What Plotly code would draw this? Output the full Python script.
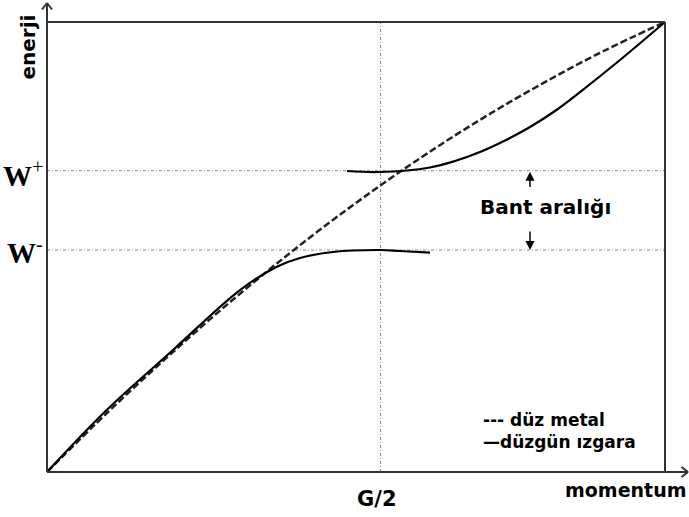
import plotly.graph_objects as go

# ---- data (momentum, energy in normalised units) ----
free_k = [0.0, 0.1, 0.2, 0.3, 0.4, 0.5, 0.6, 0.7, 0.8, 0.9, 1.0]
free_E = [0.0, 0.135, 0.262, 0.382, 0.494, 0.598, 0.694, 0.782, 0.862, 0.935, 1.0]

lower_k = [0.0, 0.0966, 0.2039, 0.3123, 0.372, 0.4094, 0.4628, 0.5388, 0.5712, 0.6197]
lower_E = [0.0, 0.1378, 0.2711, 0.4044, 0.456, 0.4756, 0.4889, 0.4933, 0.4911, 0.4874]

upper_k = [0.4854, 0.5388, 0.6197, 0.6602, 0.7006, 0.7411, 0.7816, 0.822, 0.8625, 0.9272, 1.0]
upper_E = [0.6689, 0.6667, 0.6767, 0.6911, 0.7111, 0.7367, 0.7667, 0.8022, 0.8444, 0.9156, 1.0]

g_half = 0.5396
w_minus = 0.4933
w_plus = 0.6696

# ---- pixel helpers for layout placement ----
X0, XS = 47, 618
Y0, YS = 472, 450
W, H = 689, 517
ml, mr, mt, mb = 37, 0, 2, 35

def px(x):
    return (x - X0) / XS
def py(y):
    return (Y0 - y) / YS
def ppx(x):
    return (x - ml) / (W - ml - mr)
def ppy(y):
    return (H - mb - y) / (H - mt - mb)

xr = [px(ml), px(W - mr)]
yr = [py(H - mb), py(mt)]

fig = go.Figure()
fig.add_trace(go.Scatter(x=free_k, y=free_E, mode="lines", line_shape="spline",
                         line=dict(color="#222", width=2.5, dash="7px,3px"),
                         name="düz metal"))
fig.add_trace(go.Scatter(x=lower_k, y=lower_E, mode="lines", line_shape="spline",
                         line=dict(color="black", width=2.2), name="düzgün ızgara"))
fig.add_trace(go.Scatter(x=upper_k, y=upper_E, mode="lines", line_shape="spline",
                         line=dict(color="black", width=2.2), showlegend=False))

grid = dict(color="#888", width=1, dash="3px,2px,1px,2px")
frame = dict(color="#333", width=2)
shapes = [
    dict(type="line", x0=0, x1=1, y0=w_plus, y1=w_plus, line=grid, layer="below"),
    dict(type="line", x0=0, x1=1, y0=w_minus, y1=w_minus, line=grid, layer="below"),
    dict(type="line", x0=g_half, x1=g_half, y0=0, y1=1, line=grid, layer="below"),
    dict(type="line", x0=0, x1=1, y0=1, y1=1, line=frame),
    dict(type="line", x0=1, x1=1, y0=0, y1=1, line=frame),
    # axes with arrows
    dict(type="line", x0=0, x1=0, y0=0, y1=py(3), line=frame),
    dict(type="line", x0=0, x1=px(688), y0=0, y1=0, line=frame),
    dict(type="line", x0=px(42), x1=0, y0=py(9.5), y1=py(3), line=frame),
    dict(type="line", x0=px(52), x1=0, y0=py(9.5), y1=py(3), line=frame),
    dict(type="line", x0=px(681.5), x1=px(688), y0=py(467), y1=0, line=frame),
    dict(type="line", x0=px(681.5), x1=px(688), y0=py(477), y1=0, line=frame),
]

sans = "DejaVu Sans"
ann = [
    dict(x=ppx(27.5), y=ppy(47), text="<b>enerji</b>", textangle=-90,
         font=dict(family=sans, size=20, color="black")),
    dict(x=ppx(625), y=ppy(489.5), text="<b>momentum</b>",
         font=dict(family=sans, size=19, color="black")),
    dict(x=ppx(376.5), y=ppy(499), text="<b>G/2</b>",
         font=dict(family=sans, size=21, color="black")),
    dict(x=ppx(545), y=ppy(206.5), text="<b>Bant aralığı</b>",
         font=dict(family=sans, size=20, color="black")),
    dict(x=ppx(45), y=ppy(174), text="<b>W</b><sup>+</sup>", xanchor="right",
         font=dict(family="Liberation Serif", size=29, color="black")),
    dict(x=ppx(45), y=ppy(251), text="<b>W</b><sup>-</sup>", xanchor="right",
         font=dict(family="Liberation Serif", size=29, color="black")),
    dict(x=ppx(481), y=ppy(420), text="<b>--- düz metal</b>", xanchor="left",
         font=dict(family=sans, size=17, color="black")),
    dict(x=ppx(481), y=ppy(441.7), text="<b>—düzgün ızgara</b>", xanchor="left",
         font=dict(family=sans, size=17, color="black")),
]
for a in ann:
    a["showarrow"] = False
    a["xref"] = "paper"
    a["yref"] = "paper"
    a.setdefault("xanchor", "center")
    a["yanchor"] = "middle"

arrows = [
    dict(x=px(530), y=py(171.7), ax=px(530), ay=py(188.5)),
    dict(x=px(530), y=py(250), ax=px(530), ay=py(230)),
]
for a in arrows:
    a.update(xref="x", yref="y", axref="x", ayref="y", text="", showarrow=True,
             arrowhead=2, arrowsize=1.2, arrowwidth=1.5, arrowcolor="black")
    ann.append(a)

fig.update_layout(
    width=W, height=H,
    margin=dict(l=ml, r=mr, t=mt, b=mb),
    paper_bgcolor="white", plot_bgcolor="white",
    showlegend=False,
    xaxis=dict(range=xr, visible=False, fixedrange=True),
    yaxis=dict(range=yr, visible=False, fixedrange=True),
    shapes=shapes, annotations=ann,
)
fig.write_html("out.html")
